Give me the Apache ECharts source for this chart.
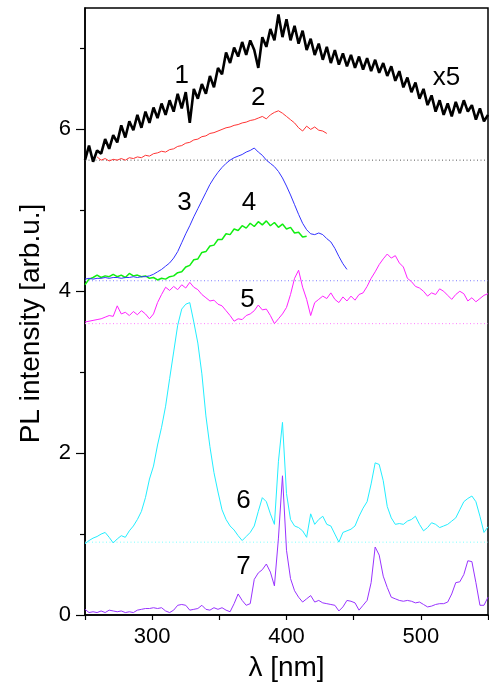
<!DOCTYPE html>
<html>
<head>
<meta charset="utf-8">
<script src="https://cdn.jsdelivr.net/npm/echarts@6/dist/echarts.min.js"></script>
<style>html,body{margin:0;padding:0;background:#fff}#chart{width:489px;height:687px}</style>
</head>
<body>
<div id="chart"></div>
<script>
// wavelength grid (nm)
const wavelengths = [250,253,256,259,262,265,268,271,274,277,280,283,286,289,292,295,298,301,304,307,
  310,313,316,319,322,325,328,331,334,337,340,343,346,349,352,355,358,361,364,367,
  370,373,376,379,382,385,388,391,394,397,400,403,406,409,412,415,418,421,424,427,
  430,433,436,439,442,445,448,451,454,457,460,463,466,469,472,475,478,481,484,487,
  490,493,496,499,502,505,508,511,514,517,520,523,526,529,532,535,538,541,544,547,550];

// curve 1 (x5), black
const curve1 = [5.62,5.80,5.60,5.74,5.70,5.88,5.76,5.93,5.84,6.05,5.90,6.10,5.99,6.18,6.02,6.22,6.08,6.27,6.14,6.32,
  6.18,6.36,6.22,6.44,6.26,6.46,6.08,6.50,6.38,6.56,6.44,6.66,6.52,6.76,6.68,6.95,6.82,7.01,6.90,7.08,
  6.92,7.10,6.98,6.76,7.14,7.02,7.24,7.10,7.42,7.14,7.36,7.10,7.28,7.06,7.22,6.98,7.12,6.92,7.06,6.86,
  7.02,6.82,6.98,6.80,6.94,6.78,6.92,6.76,6.90,6.74,6.88,6.72,6.86,6.70,6.82,6.66,6.78,6.60,6.72,6.52,
  6.64,6.46,6.58,6.38,6.50,6.30,6.42,6.22,6.36,6.18,6.32,6.16,6.34,6.20,6.36,6.22,6.30,6.12,6.26,6.10,6.18];
const curve1Start = 0;
// curve 2, red (259..430 nm)
const curve2 = [5.66,5.62,5.64,5.61,5.63,5.62,5.64,5.62,5.65,5.64,5.66,5.65,5.68,5.67,5.70,5.71,5.73,5.72,5.75,5.76,
  5.79,5.80,5.83,5.84,5.87,5.88,5.91,5.92,5.95,5.96,5.98,6.00,6.02,6.03,6.05,6.06,6.08,6.09,6.11,6.12,
  6.14,6.16,6.13,6.18,6.21,6.23,6.20,6.16,6.12,6.08,6.02,5.98,6.04,6.00,6.03,5.99,5.98,5.95];
const curve2Start = 3;
// curve 3, blue (250..445 nm)
const curve3 = [4.15,4.16,4.15,4.16,4.16,4.17,4.16,4.17,4.17,4.16,4.17,4.17,4.18,4.17,4.18,4.18,4.19,4.21,4.24,4.27,
  4.31,4.35,4.41,4.49,4.60,4.71,4.81,4.92,5.02,5.12,5.22,5.32,5.40,5.47,5.53,5.58,5.62,5.65,5.67,5.69,
  5.72,5.74,5.77,5.72,5.68,5.62,5.58,5.54,5.48,5.40,5.30,5.19,5.07,4.95,4.84,4.76,4.71,4.70,4.72,4.70,
  4.65,4.61,4.53,4.43,4.34,4.27];
const curve3Start = 0;
// curve 4, green (250..415 nm)
const curve4 = [4.08,4.15,4.17,4.20,4.17,4.19,4.18,4.21,4.18,4.20,4.17,4.22,4.19,4.20,4.18,4.19,4.16,4.17,4.14,4.16,
  4.15,4.18,4.19,4.23,4.24,4.30,4.32,4.39,4.40,4.48,4.49,4.56,4.57,4.64,4.64,4.71,4.70,4.77,4.75,4.81,
  4.78,4.84,4.80,4.86,4.82,4.87,4.81,4.85,4.79,4.83,4.77,4.79,4.72,4.73,4.67,4.68];
const curve4Start = 0;
// curve 5, magenta
const curve5 = [3.62,3.63,3.64,3.65,3.66,3.68,3.70,3.69,3.82,3.72,3.74,3.70,3.75,3.71,3.76,3.72,3.66,3.72,3.86,3.96,
  4.05,4.01,4.06,4.02,4.08,4.04,4.11,4.05,4.02,3.96,3.92,3.88,3.89,3.84,3.82,3.76,3.70,3.63,3.66,3.65,
  3.70,3.72,3.76,3.83,3.77,3.78,3.70,3.60,3.66,3.72,3.80,3.96,4.16,4.26,4.05,3.90,3.70,3.86,3.90,3.94,
  3.91,3.98,3.90,3.86,3.93,3.88,3.94,3.89,3.96,3.98,4.06,4.16,4.24,4.33,4.40,4.46,4.41,4.44,4.35,4.30,
  4.16,4.12,4.06,4.04,4.00,3.94,3.98,3.96,4.03,4.00,3.95,3.90,3.96,4.00,3.97,3.88,3.92,3.87,3.91,3.95,3.97];
const curve5Start = 0;
// curve 6, cyan
const curve6 = [0.88,0.92,0.95,0.97,1.00,1.02,0.96,0.89,0.94,0.98,0.96,1.04,1.10,1.18,1.28,1.45,1.68,1.84,2.10,2.32,
  2.58,2.92,3.25,3.58,3.78,3.84,3.86,3.62,3.36,2.98,2.46,2.08,1.76,1.52,1.30,1.18,1.10,1.05,0.98,0.92,
  0.97,1.02,1.10,1.28,1.45,1.40,1.25,1.12,1.90,2.38,1.50,1.18,1.10,1.08,1.04,0.96,1.25,1.12,1.18,1.22,
  1.12,1.10,1.00,0.90,1.02,1.04,1.06,1.10,1.22,1.32,1.40,1.62,1.88,1.86,1.66,1.34,1.20,1.12,1.13,1.12,
  1.16,1.18,1.22,1.12,1.04,1.08,1.14,1.12,1.08,1.10,1.12,1.16,1.20,1.30,1.40,1.44,1.47,1.40,1.22,1.02,1.09];
const curve6Start = 0;
// curve 7, violet
const curve7 = [0.07,0.03,0.04,0.03,0.05,0.03,0.06,0.05,0.04,0.05,0.03,0.04,0.03,0.06,0.07,0.08,0.08,0.09,0.08,0.09,
  0.05,0.03,0.06,0.12,0.13,0.12,0.06,0.07,0.08,0.12,0.07,0.06,0.09,0.07,0.09,0.06,0.04,0.14,0.26,0.18,
  0.12,0.14,0.44,0.52,0.56,0.63,0.53,0.36,0.95,1.72,0.80,0.45,0.30,0.22,0.16,0.20,0.24,0.16,0.18,0.15,
  0.14,0.13,0.12,0.05,0.10,0.18,0.17,0.15,0.06,0.12,0.18,0.40,0.84,0.74,0.48,0.34,0.22,0.20,0.18,0.17,
  0.18,0.17,0.15,0.16,0.13,0.10,0.11,0.13,0.14,0.14,0.16,0.26,0.40,0.41,0.50,0.67,0.66,0.40,0.12,0.12,0.22];
const curve7Start = 0;

// dotted baselines
const baselineLevels = [5.62, 4.13, 3.60, 0.90];
const baselineColors = ['#555555', '#7b7bff', '#ff7bff', '#7bffff'];

// curve labels
const labelTexts = ['1', '2', 'x5', '3', '4', '5', '6', '7'];
const labelX = [322, 379, 519, 324, 372, 371, 368, 368];
const labelY = [6.66, 6.39, 6.64, 5.09, 5.09, 3.90, 1.41, 0.59];

// axis ticks
const xTicks = [250, 300, 350, 400, 450, 500, 550];
const xTickLabels = [300, 400, 500];
const yMajorTicks = [0, 2, 4, 6];
const yMinorTicks = [1, 3, 5, 7];

const curves = [
  {vals: curve7, start: curve7Start, color: '#9933ff', width: 1},
  {vals: curve6, start: curve6Start, color: '#22eeff', width: 1},
  {vals: curve5, start: curve5Start, color: '#ff22ff', width: 1},
  {vals: curve4, start: curve4Start, color: '#11ee11', width: 1.5},
  {vals: curve3, start: curve3Start, color: '#3333ff', width: 1},
  {vals: curve2, start: curve2Start, color: '#ff3333', width: 1},
  {vals: curve1, start: curve1Start, color: '#000000', width: 2.6}
];

const FONT = '"Liberation Sans", Arial, sans-serif';
const series = [];
baselineLevels.forEach((lv, i) => {
  series.push({
    type: 'line', symbol: 'none', silent: true, animation: false,
    data: [[wavelengths[0], lv], [wavelengths[wavelengths.length - 1], lv]],
    lineStyle: {color: baselineColors[i], width: 1, type: [1, 2.5]}
  });
});
curves.forEach(c => {
  series.push({
    type: 'line', symbol: 'none', animation: false,
    data: c.vals.map((v, i) => [wavelengths[c.start + i], v]),
    lineStyle: {color: c.color, width: c.width}
  });
});
series.push({
  type: 'scatter', symbolSize: 0, animation: false, silent: true,
  itemStyle: {opacity: 1},
  data: labelTexts.map((t, i) => ({name: t, value: [labelX[i], labelY[i]]})),
  label: {show: true, position: 'inside', formatter: p => p.name, color: '#000', opacity: 1,
          fontSize: 26, fontFamily: FONT}
});

const chart = echarts.init(document.getElementById('chart'), null, {renderer: 'canvas'});
chart.setOption({
  animation: false,
  backgroundColor: '#fff',
  grid: {left: 85, right: 1, top: 8, bottom: 71, show: true, borderColor: '#000', borderWidth: 1.5},
  xAxis: {
    type: 'value', min: 250, max: 550, interval: 50,
    axisLine: {lineStyle: {color: '#000', width: 1.5}},
    axisTick: {length: 5, lineStyle: {color: '#000', width: 1.2}, customValues: xTicks},
    axisLabel: {customValues: xTickLabels, fontSize: 22, color: '#000', fontFamily: FONT, margin: 11},
    splitLine: {show: false},
    name: 'λ [nm]', nameLocation: 'middle', nameGap: 39,
    nameTextStyle: {fontSize: 28, color: '#000', fontFamily: FONT}
  },
  yAxis: [{
    type: 'value', min: 0, max: 7.5, interval: 1,
    axisLine: {lineStyle: {color: '#000', width: 1.5}},
    axisTick: {length: 9, lineStyle: {color: '#000', width: 1.2}, customValues: yMajorTicks},
    axisLabel: {customValues: yMajorTicks, fontSize: 22, color: '#000', fontFamily: FONT, margin: 14},
    splitLine: {show: false},
    name: 'PL intensity [arb.u.]', nameLocation: 'middle', nameGap: 40,
    nameTextStyle: {fontSize: 28, color: '#000', fontFamily: FONT, padding: [0, 24, 0, 0]}
  }, {
    type: 'value', min: 0, max: 7.5, interval: 1, position: 'left',
    axisLine: {show: false},
    axisTick: {length: 5, lineStyle: {color: '#000', width: 1.2}, customValues: yMinorTicks},
    axisLabel: {show: false},
    splitLine: {show: false}
  }],
  series: series
});
</script>
</body>
</html>
